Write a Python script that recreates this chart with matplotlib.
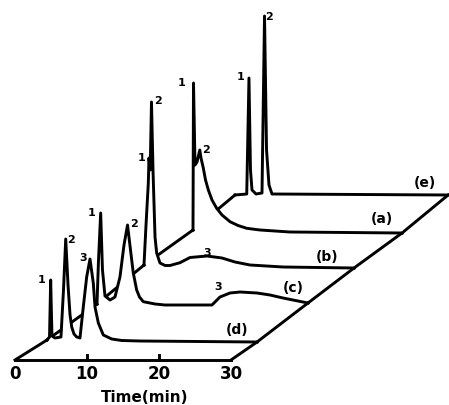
import matplotlib.pyplot as plt

# chromatograms, time from the start of each trace (min) and detector response (arb. units)
d_t = [0, 0.35, 0.51, 0.69, 1.11, 1.94, 2.29, 2.6, 2.92, 3.2, 3.43, 3.75, 4.13, 4.58, 5.04, 5.51,
       5.97, 6.43, 6.67, 7.13, 7.82, 8.99, 10.37, 12.9, 29.17]
d_h = [0, 3, 60, 4, 2, 3, 50, 101, 55, 25, 13, 6, 3, 2, 33, 63,
       81, 57, 33, 17, 5, 1, -0.5, -1, -2]

c_t = [0, 0.21, 0.51, 0.76, 1.11, 1.81, 2.5, 3.19, 3.75, 4.24, 4.82, 5.04, 5.51, 5.9, 6.43, 8.06,
       9.44, 15.97, 17.08, 18.47, 19.86, 22.22, 24.03, 25.83, 29.3]
c_h = [0, 44, 91, 34, 8, 4, 7, 27, 59, 79, 44, 31, 14, 7, 2.3, 0,
       -1, -1, 7, 11, 12, 11, 9, 6, 1]

b_t = [0, 0.28, 0.6, 0.69, 0.86, 1.04, 1.25, 1.53, 1.76, 2.22, 2.92, 3.61, 5.0, 6.39, 8.75, 10.83,
       12.64, 14.72, 19.31, 29.17]
b_h = [0, 40, 82, 107, 95, 163, 95, 28, 12, 2, -0.5, -0.5, 2.3, 7.5, 9, 7,
       3, 0, -2, -3]

a_t = [0, 0.07, 0.28, 0.56, 0.94, 1.11, 1.43, 1.74, 2.13, 2.64, 3.29, 4.03, 5.14, 6.25, 7.46, 9.31,
       13.47, 29.03]
a_h = [0, 147, 65, 68, 80, 72, 62, 50, 40, 30, 21.7, 15, 8.3, 4.5, 1.7, 0,
       -2, -3]

e_t = [0, 1.63, 1.94, 2.15, 2.36, 2.92, 3.75, 4.1, 4.38, 4.72, 5.14, 29.6]
e_h = [0, 1, 117, 25, 5, 1, 2, 179, 45, 10, 1, 0]

names = ['(e)', '(a)', '(b)', '(c)', '(d)']
traces = [(e_t, e_h), (a_t, a_h), (b_t, b_h), (c_t, c_h), (d_t, d_h)]
axis_ticks = [0, 10, 20, 30]

# layout: pixel -> data (1 min = 7.2 px, response unit = 1 px)
def P(xp, yp):
    return (xp - 15) / 7.2, 360 - yp

starts = [P(235, 195), P(193, 230), P(144, 265), P(97, 304), P(47, 340)]
name_pos = [P(425, 183), P(382, 219), P(327, 257), P(293, 288), P(237, 330)]
peak_labels = [
    [('1', 241, 77), ('2', 269, 17)],
    [('1', 181.7, 83), ('2', 206, 150)],
    [('1', 141.7, 158), ('2', 157.7, 101), ('3', 207, 253)],
    [('1', 91.7, 213), ('2', 134, 224), ('3', 218, 287)],
    [('1', 41.7, 280), ('2', 70.7, 240), ('3', 82.7, 258)],
]

fig = plt.figure(figsize=(4.49, 4.05), dpi=100)
ax = fig.add_axes([0, 0, 1, 1])
ax.set_xlim(-15 / 7.2, (449 - 15) / 7.2)
ax.set_ylim(-45, 360)
ax.axis('off')

lw = 2.1
prev_s = None
prev_e = None
for i, ((t, h), (x0, y0)) in enumerate(zip(traces, starts)):
    z = 2 * i + 1
    x = [x0 + v for v in t]
    y = [y0 + v for v in h]
    ax.fill_between(x, y0, y, color='white', zorder=z + 0.5, lw=0)
    ax.plot(x, y, color='black', lw=lw, zorder=z + 0.6)
    if prev_s is not None:
        # depth lines between this trace and the one behind it
        ax.plot([x0, prev_s[0]], [y0, prev_s[1]], color='black', lw=lw, zorder=z)
        ax.plot([x[-1], prev_e[0]], [y[-1], prev_e[1]], color='black', lw=lw, zorder=z)
    prev_s = (x0, y0)
    prev_e = (x[-1], y[-1])
    ax.text(*name_pos[i], names[i], fontsize=10, fontweight='bold', ha='center', va='center', zorder=20)
    for lab, xp, yp in peak_labels[i]:
        ax.text(*P(xp, yp), lab, fontsize=8, fontweight='bold', ha='center', va='center', zorder=20)

# front time axis
ax.plot([0, prev_s[0]], [0, prev_s[1]], color='black', lw=lw, zorder=20)
ax.plot([axis_ticks[-1], prev_e[0]], [0, prev_e[1]], color='black', lw=lw, zorder=20)
ax.plot([axis_ticks[0], axis_ticks[-1]], [0, 0], color='black', lw=lw, zorder=20)
for tk in axis_ticks[1:-1]:
    ax.plot([tk, tk], [0, 5], color='black', lw=lw, zorder=20)
for tk in axis_ticks:
    ax.text(tk, -14, str(tk), fontsize=12, fontweight='bold', ha='center', va='center')
ax.text(*P(145, 397), 'Time(min)', fontsize=11, fontweight='bold', ha='center', va='center')

fig.savefig('out.png', dpi=100)
